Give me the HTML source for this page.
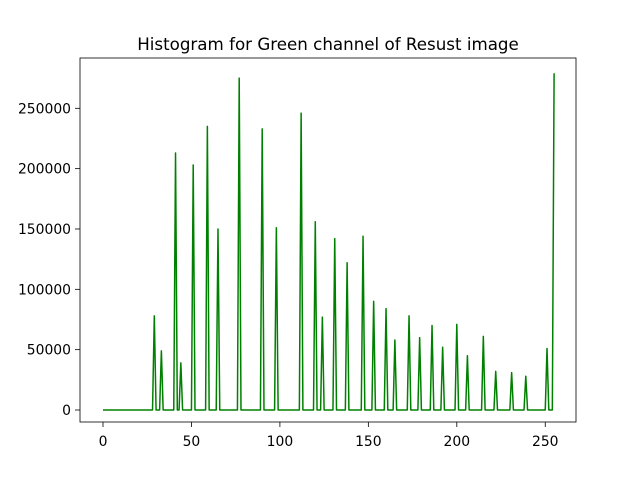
<!DOCTYPE html>
<html><head><meta charset="utf-8"><style>
body{margin:0;background:#fff;font-family:"Liberation Sans","DejaVu Sans",sans-serif}
text{font-family:"DejaVu Sans","Liberation Sans",sans-serif}
</style></head><body>
<svg id="chart" width="640" height="480" viewBox="0 0 640 480">
<rect width="640" height="480" fill="#fff"/>
<text x="328" y="50" font-size="16.7" text-anchor="middle">Histogram for Green channel of Resust image</text>
<g id="ticks"></g>
<path id="line" fill="none" stroke="#008000" stroke-width="1.5" stroke-linejoin="round"/>
<rect x="80" y="58" width="496" height="364" fill="none" stroke="#000" stroke-width="0.8"/>
</svg>
<script>
const binIdx = [29,33,41,44,51,59,65,77,90,98,112,120,124,131,138,147,153,160,165,173,179,186,192,200,206,215,222,231,239,251,255];
const binVals = [78000,49000,213000,39000,203000,235000,150000,275000,233000,151000,246000,156000,77000,142000,122000,144000,90000,84000,58000,78000,60000,70000,52000,71000,45000,61000,32000,31000,28000,51000,279000];
const xTicks = [0,50,100,150,200,250];
const yTicks = [0,50000,100000,150000,200000,250000];
const xs = v => 103 + v*1.769;
const ys = v => 410 - v*301.7/250000;
const counts = new Array(256).fill(0);
binIdx.forEach((b,i)=>counts[b]=binVals[i]);
let d = '';
counts.forEach((c,i)=>{ d += (i?'L':'M') + xs(i).toFixed(2) + ' ' + ys(c).toFixed(2) + ' '; });
document.getElementById('line').setAttribute('d', d);
const g = document.getElementById('ticks');
const NS = 'http://www.w3.org/2000/svg';
xTicks.forEach(t=>{
  const l = document.createElementNS(NS,'line');
  l.setAttribute('x1',xs(t)); l.setAttribute('x2',xs(t)); l.setAttribute('y1',422); l.setAttribute('y2',427);
  l.setAttribute('stroke','#000'); l.setAttribute('stroke-width','0.8');
  
  
  g.appendChild(l);
  const tx = document.createElementNS(NS,'text');
  tx.setAttribute('x',xs(t)); tx.setAttribute('y',446); tx.setAttribute('font-size','13.9');
  tx.setAttribute('text-anchor','middle'); tx.textContent = t;
  
  
  g.appendChild(tx);
});
yTicks.forEach(t=>{
  const l = document.createElementNS(NS,'line');
  l.setAttribute('x1',75); l.setAttribute('x2',80); l.setAttribute('y1',ys(t)); l.setAttribute('y2',ys(t));
  l.setAttribute('stroke','#000'); l.setAttribute('stroke-width','0.8');
  
  
  g.appendChild(l);
  const tx = document.createElementNS(NS,'text');
  tx.setAttribute('x',71); tx.setAttribute('y',ys(t)+5); tx.setAttribute('font-size','13.9');
  tx.setAttribute('text-anchor','end'); tx.textContent = t;
  
  
  g.appendChild(tx);
});
</script>
</body></html>
